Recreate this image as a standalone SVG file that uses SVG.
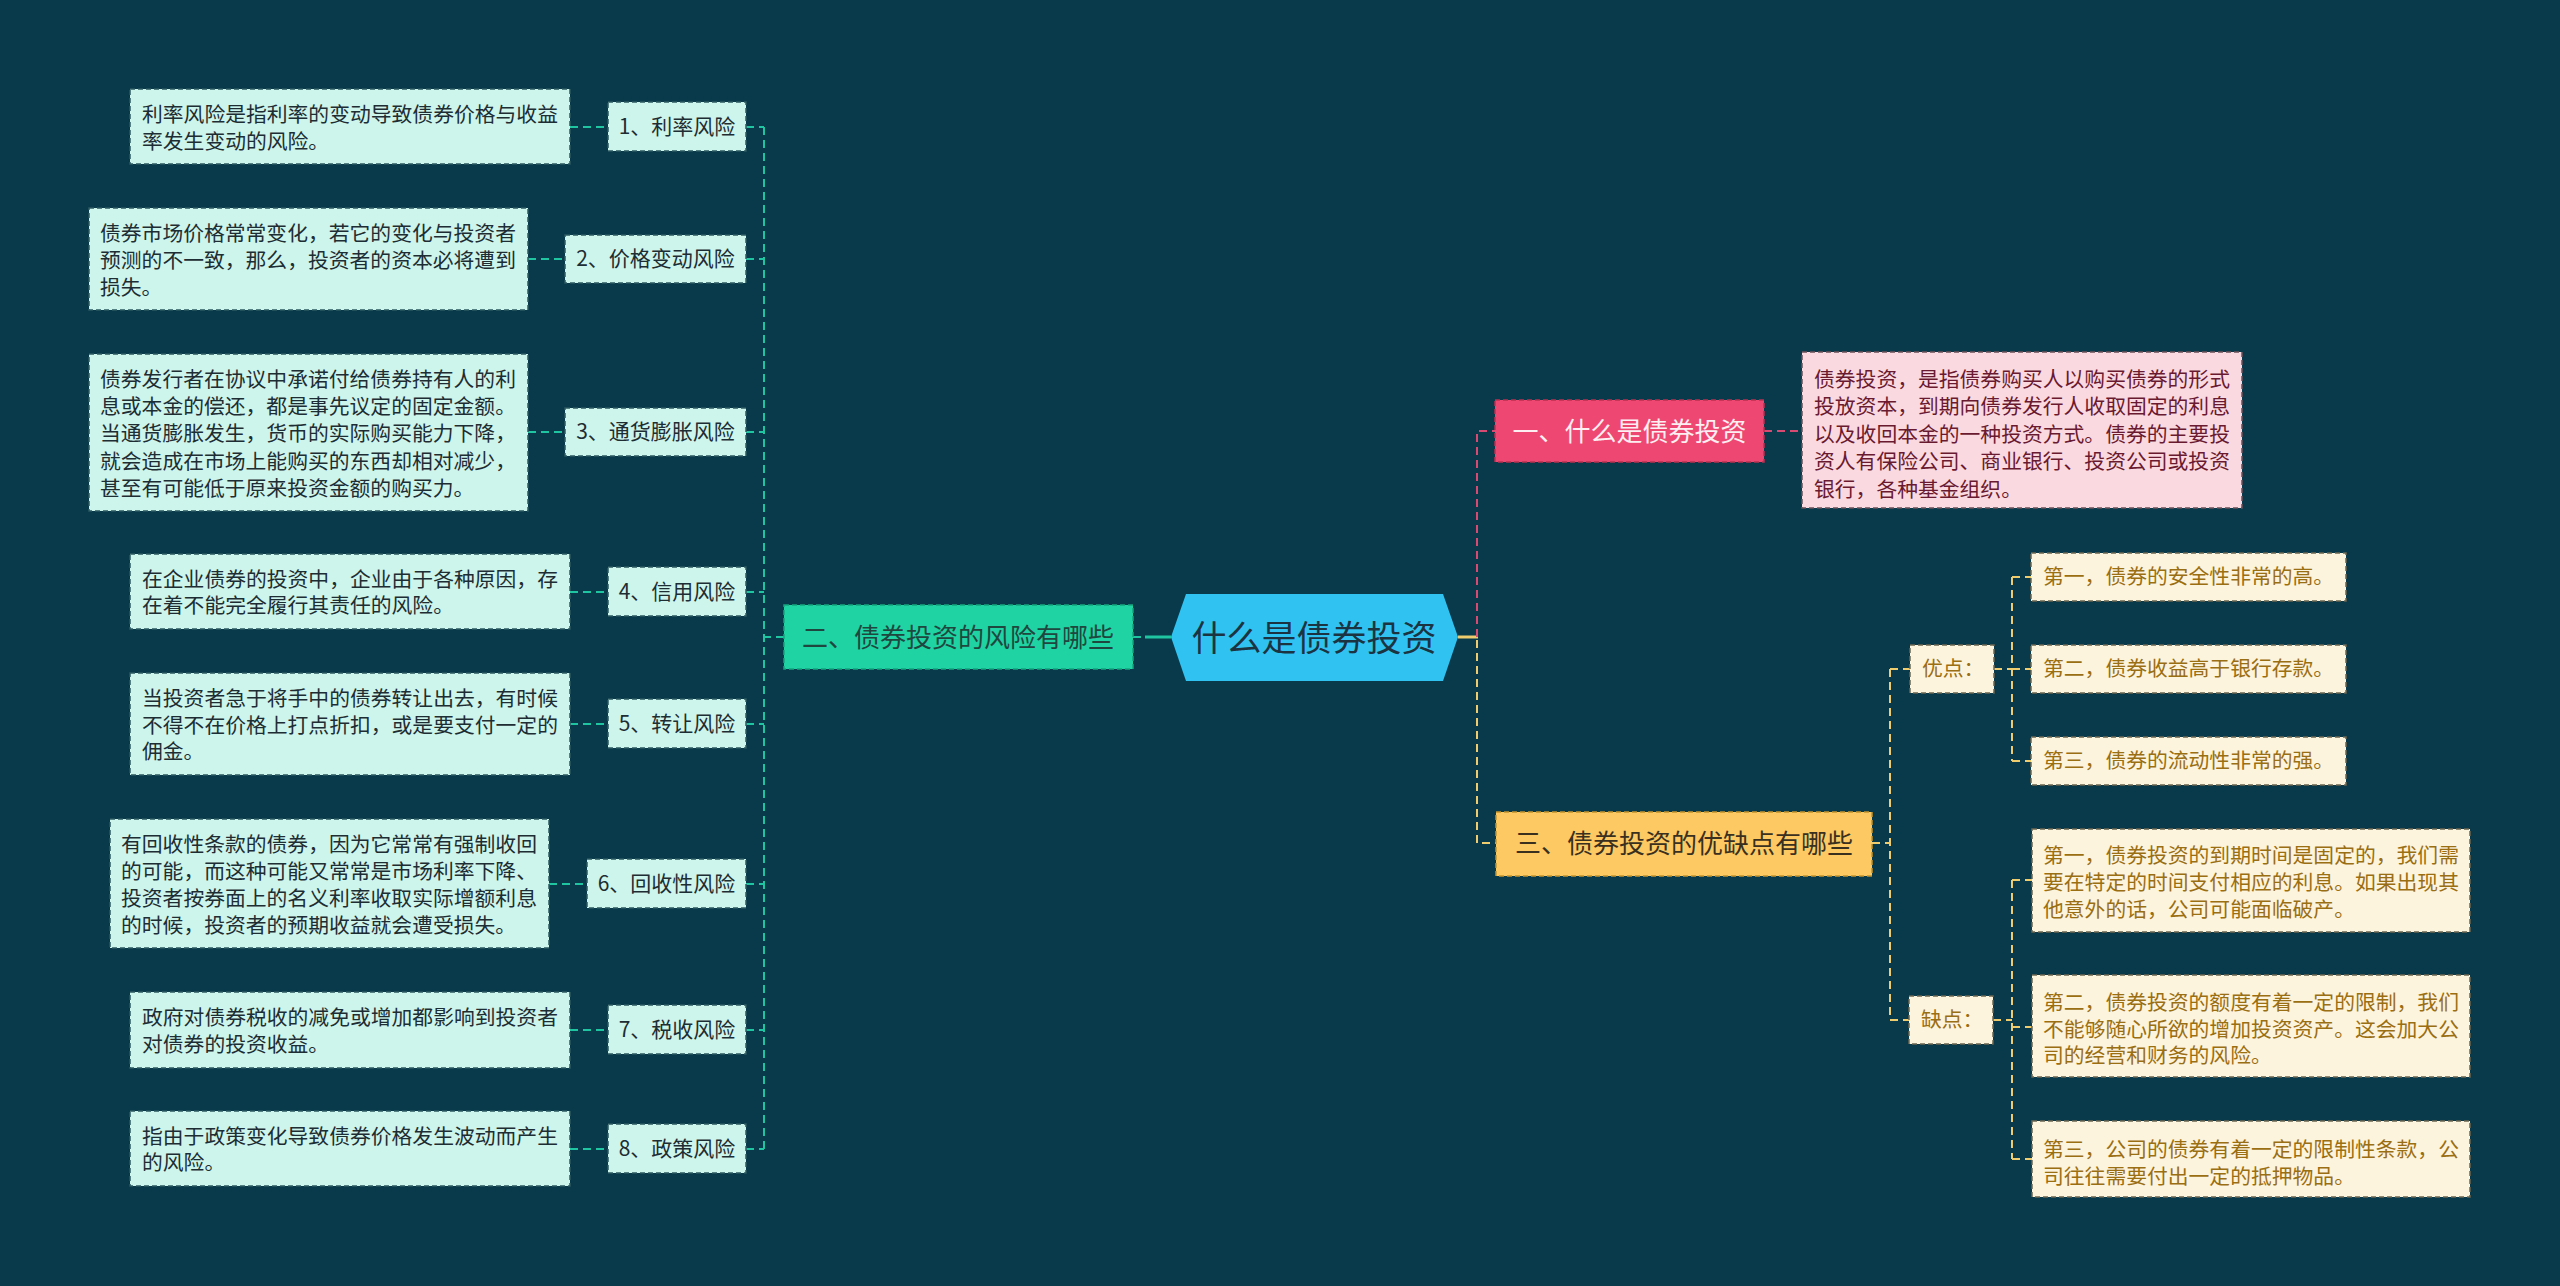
<svg xmlns="http://www.w3.org/2000/svg" width="2560" height="1286" viewBox="0 0 2560 1286">
<style>
text{font-family:"Noto Sans CJK SC","Microsoft YaHei",sans-serif;dominant-baseline:central;transform:translateY(-2px)}
.risk{fill:#cdf5ec;stroke:#2c5a60;stroke-width:1.5;stroke-dasharray:5 3}
.rt{font-size:21px;fill:#1d2d33;text-anchor:middle}
.dt{font-size:20.8px;fill:#1d2d33}
.lt{stroke:#1fc4a0;stroke-width:2;stroke-dasharray:8 5;fill:none}
.lp{stroke:#d94a72;stroke-width:2;stroke-dasharray:8 5;fill:none}
.ly{stroke:#efcd6e;stroke-width:2;stroke-dasharray:8 5;fill:none}
.leaf{fill:#fdf4dd;stroke:#6b6650;stroke-width:1.5;stroke-dasharray:5 3}
.yt{font-size:20.8px;fill:#9a6e12}
</style>
<rect x="0" y="0" width="2560" height="1286" fill="#083a4c"/>
<g id="connectors">
<line x1="1145" y1="637" x2="1171" y2="637" stroke="#1fc4a0" stroke-width="3"/>
<line x1="1132" y1="637" x2="1141" y2="637" stroke="#1fc4a0" stroke-width="2"/>
<path class="lt" d="M784 637 H764"/>
<path class="lt" d="M764 127 V1149"/>
<path class="lt" d="M746 127 H764 M746 259 H764 M746 432 H764 M746 592 H764 M746 724 H764 M746 884 H764 M746 1030 H764 M746 1149 H764"/>
<path class="lt" d="M570 127 H608 M528 259 H565 M528 432 H565 M570 592 H608 M570 724 H608 M549 884 H587 M570 1030 H608 M570 1149 H608"/>
<line x1="1458" y1="637" x2="1478" y2="637" stroke="#efcd6e" stroke-width="3"/>
<path class="lp" d="M1477 637 V431 H1495"/>
<path class="lp" d="M1764 431 H1802"/>
<path class="ly" d="M1477 640 V843 H1496"/>
<path class="ly" d="M1872 843 H1890 M1890 669 V1020 M1890 669 H1910 M1890 1020 H1909"/>
<path class="ly" d="M1994 669 H2012 M2012 577 V761 M2012 577 H2031 M2012 669 H2031 M2012 761 H2031"/>
<path class="ly" d="M1993 1020 H2012 M2012 880 V1159 M2012 880 H2032 M2012 1027 H2032 M2012 1159 H2032"/>
</g>
<g id="root">
<polygon points="1171,637 1186,594 1443,594 1458,637 1443,681 1186,681" fill="#30c3f1"/>
<text x="1314" y="637" font-size="35" fill="#1c3442" text-anchor="middle">什么是债券投资</text>
</g>
<g id="b2">
<rect x="784" y="605" width="349" height="64" fill="#1fd3a2" stroke="#15a57e" stroke-width="1.5" stroke-dasharray="5 3"/>
<text x="958" y="637" font-size="26" fill="#1f4740" text-anchor="middle">二、债券投资的风险有哪些</text>
</g>
<g id="r1"><rect class="risk" x="608" y="102" width="138" height="49"/><text class="rt" x="677" y="127">1、利率风险</text></g>
<g id="r2"><rect class="risk" x="565" y="235" width="181" height="48"/><text class="rt" x="655.5" y="259">2、价格变动风险</text></g>
<g id="r3"><rect class="risk" x="565" y="408" width="181" height="48"/><text class="rt" x="655.5" y="432">3、通货膨胀风险</text></g>
<g id="r4"><rect class="risk" x="608" y="567" width="138" height="49"/><text class="rt" x="677" y="592">4、信用风险</text></g>
<g id="r5"><rect class="risk" x="608" y="699" width="138" height="49"/><text class="rt" x="677" y="724">5、转让风险</text></g>
<g id="r6"><rect class="risk" x="587" y="859" width="159" height="49"/><text class="rt" x="666.5" y="884">6、回收性风险</text></g>
<g id="r7"><rect class="risk" x="608" y="1005" width="138" height="49"/><text class="rt" x="677" y="1030">7、税收风险</text></g>
<g id="r8"><rect class="risk" x="608" y="1124" width="138" height="49"/><text class="rt" x="677" y="1149">8、政策风险</text></g>
<g id="d1"><rect class="risk" x="130" y="89" width="440" height="75"/>
<text class="dt"><tspan x="142" y="115">利率风险是指利率的变动导致债券价格与收益</tspan><tspan x="142" y="142">率发生变动的风险。</tspan></text></g>
<g id="d2"><rect class="risk" x="89" y="208" width="439" height="102"/>
<text class="dt"><tspan x="100" y="234">债券市场价格常常变化，若它的变化与投资者</tspan><tspan x="100" y="261">预测的不一致，那么，投资者的资本必将遭到</tspan><tspan x="100" y="288">损失。</tspan></text></g>
<g id="d3"><rect class="risk" x="89" y="354" width="439" height="157"/>
<text class="dt"><tspan x="100" y="380">债券发行者在协议中承诺付给债券持有人的利</tspan><tspan x="100" y="407">息或本金的偿还，都是事先议定的固定金额。</tspan><tspan x="100" y="434">当通货膨胀发生，货币的实际购买能力下降，</tspan><tspan x="100" y="462">就会造成在市场上能购买的东西却相对减少，</tspan><tspan x="100" y="489">甚至有可能低于原来投资金额的购买力。</tspan></text></g>
<g id="d4"><rect class="risk" x="130" y="554" width="440" height="75"/>
<text class="dt"><tspan x="142" y="580">在企业债券的投资中，企业由于各种原因，存</tspan><tspan x="142" y="606">在着不能完全履行其责任的风险。</tspan></text></g>
<g id="d5"><rect class="risk" x="130" y="673" width="440" height="102"/>
<text class="dt"><tspan x="142" y="699">当投资者急于将手中的债券转让出去，有时候</tspan><tspan x="142" y="726">不得不在价格上打点折扣，或是要支付一定的</tspan><tspan x="142" y="752">佣金。</tspan></text></g>
<g id="d6"><rect class="risk" x="110" y="819" width="439" height="129"/>
<text class="dt"><tspan x="121" y="845">有回收性条款的债券，因为它常常有强制收回</tspan><tspan x="121" y="872">的可能，而这种可能又常常是市场利率下降、</tspan><tspan x="121" y="899">投资者按券面上的名义利率收取实际增额利息</tspan><tspan x="121" y="926">的时候，投资者的预期收益就会遭受损失。</tspan></text></g>
<g id="d7"><rect class="risk" x="130" y="992" width="440" height="76"/>
<text class="dt"><tspan x="142" y="1018">政府对债券税收的减免或增加都影响到投资者</tspan><tspan x="142" y="1045">对债券的投资收益。</tspan></text></g>
<g id="d8"><rect class="risk" x="130" y="1111" width="440" height="75"/>
<text class="dt"><tspan x="142" y="1137">指由于政策变化导致债券价格发生波动而产生</tspan><tspan x="142" y="1163">的风险。</tspan></text></g>
<g id="b1">
<rect x="1495" y="400" width="269" height="62" fill="#ee4872" stroke="#b8304f" stroke-width="1.5" stroke-dasharray="5 3"/>
<text x="1629.5" y="431" font-size="26" fill="#fdeef1" text-anchor="middle">一、什么是债券投资</text>
</g>
<g id="b1d">
<rect x="1802" y="352" width="440" height="156" fill="#fbd9e1" stroke="#6b5058" stroke-width="1.5" stroke-dasharray="5 3"/>
<text font-size="20.8" fill="#6a1a30"><tspan x="1814" y="380">债券投资，是指债券购买人以购买债券的形式</tspan><tspan x="1814" y="407">投放资本，到期向债券发行人收取固定的利息</tspan><tspan x="1814" y="435">以及收回本金的一种投资方式。债券的主要投</tspan><tspan x="1814" y="462">资人有保险公司、商业银行、投资公司或投资</tspan><tspan x="1814" y="490">银行，各种基金组织。</tspan></text>
</g>
<g id="b3">
<rect x="1496" y="812" width="376" height="64" fill="#fcc963" stroke="#c4922c" stroke-width="1.5" stroke-dasharray="5 3"/>
<text x="1684" y="843" font-size="26" fill="#3a3020" text-anchor="middle">三、债券投资的优缺点有哪些</text>
</g>
<g id="pro"><rect class="leaf" x="1910" y="645" width="84" height="48"/><text class="yt" x="1922" y="669">优点：</text></g>
<g id="pro1"><rect class="leaf" x="2031" y="553" width="315" height="48"/><text class="yt" x="2043" y="577">第一，债券的安全性非常的高。</text></g>
<g id="pro2"><rect class="leaf" x="2031" y="645" width="315" height="48"/><text class="yt" x="2043" y="669">第二，债券收益高于银行存款。</text></g>
<g id="pro3"><rect class="leaf" x="2031" y="737" width="315" height="48"/><text class="yt" x="2043" y="761">第三，债券的流动性非常的强。</text></g>
<g id="con"><rect class="leaf" x="1909" y="996" width="84" height="48"/><text class="yt" x="1921" y="1020">缺点：</text></g>
<g id="con1"><rect class="leaf" x="2032" y="829" width="438" height="103"/>
<text class="yt"><tspan x="2043" y="856">第一，债券投资的到期时间是固定的，我们需</tspan><tspan x="2043" y="883">要在特定的时间支付相应的利息。如果出现其</tspan><tspan x="2043" y="910">他意外的话，公司可能面临破产。</tspan></text></g>
<g id="con2"><rect class="leaf" x="2032" y="975" width="438" height="102"/>
<text class="yt"><tspan x="2043" y="1003">第二，债券投资的额度有着一定的限制，我们</tspan><tspan x="2043" y="1030">不能够随心所欲的增加投资资产。这会加大公</tspan><tspan x="2043" y="1056">司的经营和财务的风险。</tspan></text></g>
<g id="con3"><rect class="leaf" x="2032" y="1121" width="438" height="76"/>
<text class="yt"><tspan x="2043" y="1150">第三，公司的债券有着一定的限制性条款，公</tspan><tspan x="2043" y="1177">司往往需要付出一定的抵押物品。</tspan></text></g>
</svg>
